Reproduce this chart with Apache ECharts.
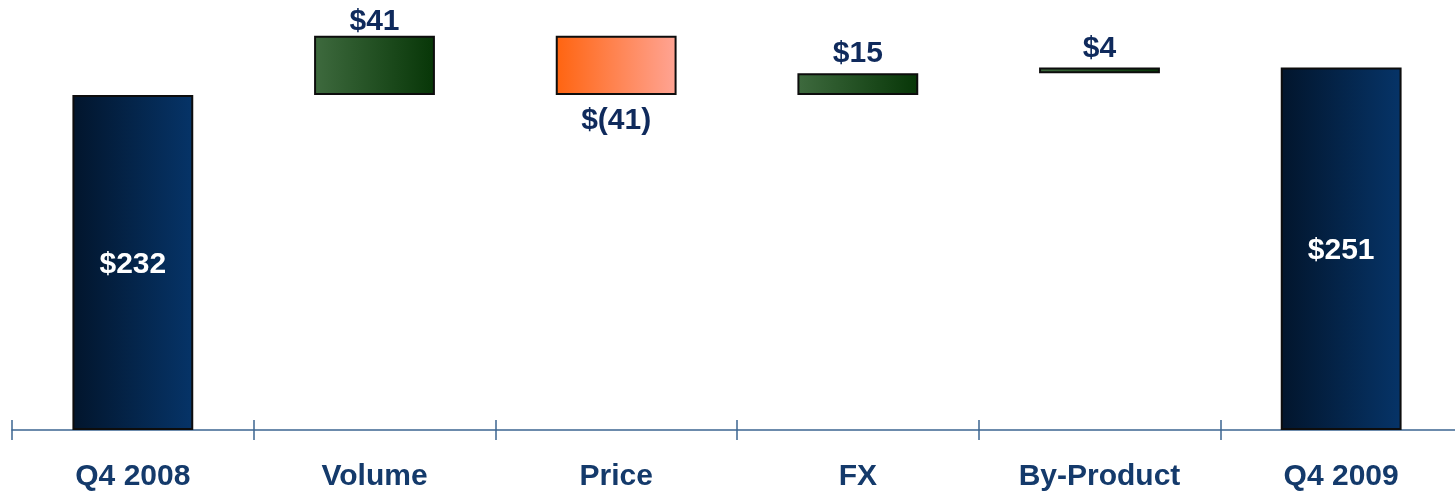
<!DOCTYPE html>
<html><head><meta charset="utf-8">
<script src="https://cdn.jsdelivr.net/npm/echarts@6/dist/echarts.min.js"></script>
<style>html,body{margin:0;padding:0;background:#fff;overflow:hidden}#c{width:1462px;height:495px}</style>
</head><body><div id="c"></div>
<script>
var categories = ['Q4 2008','Volume','Price','FX','By-Product','Q4 2009'];
var changes = [232, 41, -41, 15, 4, 251];
var isTotal = [true, false, false, false, false, true];
var labels = ['$232','$41','$(41)','$15','$4','$251'];

var navy = {type:'linear',x:0,y:0,x2:1,y2:0,colorStops:[{offset:0,color:'#02152c'},{offset:1,color:'#063468'}]};
var green = {type:'linear',x:0,y:0,x2:1,y2:0,colorStops:[{offset:0,color:'#3e6a3e'},{offset:1,color:'#073607'}]};
var orange = {type:'linear',x:0,y:0,x2:1,y2:0,colorStops:[{offset:0,color:'#ff6410'},{offset:1,color:'#ffa494'}]};

var base = [], height = [], run = 0;
for (var i = 0; i < changes.length; i++) {
  var v = changes[i];
  if (isTotal[i]) { base.push(0); height.push(v); run = v; }
  else if (v >= 0) { base.push(run); height.push(v); run += v; }
  else { run += v; base.push(run); height.push(-v); }
}

var topDist = [0, -1, 0, 5, 4, 0];
var barData = height.map(function(h, i){
  var color = isTotal[i] ? navy : (changes[i] >= 0 ? green : orange);
  var lab;
  if (isTotal[i]) lab = {show:true, position:'inside', color:'#ffffff', offset:[0,2]};
  else if (changes[i] >= 0) lab = {show:true, position:'top', distance:topDist[i], color:'#0f2a5c'};
  else lab = {show:true, position:'bottom', distance:11, color:'#0f2a5c'};
  lab.formatter = labels[i];
  return {value:h, itemStyle:{color:color}, label:lab};
});

var chart = echarts.init(document.getElementById('c'));
chart.setOption({
  animation:false,
  grid:{left:12, right:0, top:11.2, bottom:65},
  xAxis:[{
    type:'category', data:categories, position:'bottom',
    axisLine:{lineStyle:{color:'#3d6591', width:1.5}},
    axisTick:{show:true, length:10, lineStyle:{color:'#3d6591', width:1.5}},
    axisLabel:{margin:32, color:'#143a6b', fontSize:30, fontWeight:'bold', fontFamily:'Liberation Sans, Arial, sans-serif'}
  },{
    type:'category', data:categories, position:'bottom',
    axisLine:{show:false},
    axisTick:{show:true, inside:true, length:10, lineStyle:{color:'#3d6591', width:1.5}},
    axisLabel:{show:false}
  }],
  yAxis:{type:'value', min:0, max:290, show:false, splitLine:{show:false}},
  series:[{
    type:'bar', stack:'w', data:base, barWidth:'50%',
    itemStyle:{color:'transparent'}, silent:true
  },{
    type:'bar', stack:'w', data:barData, barWidth:'50%',
    itemStyle:{borderColor:'#0d0d0d', borderWidth:2},
    label:{fontSize:30, fontWeight:'bold', fontFamily:'Liberation Sans, Arial, sans-serif'}
  }]
});
</script></body></html>
